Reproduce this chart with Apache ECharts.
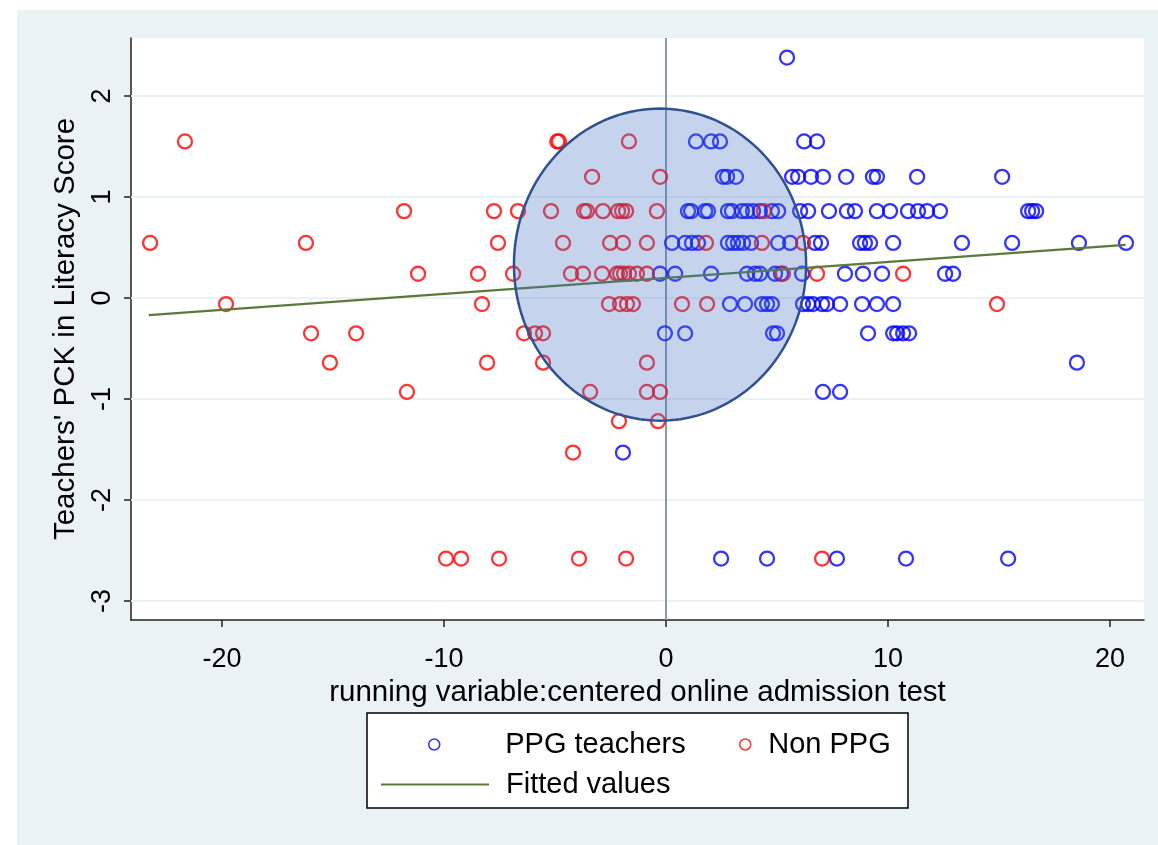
<!DOCTYPE html>
<html>
<head>
<meta charset="utf-8">
<script src="https://cdn.jsdelivr.net/npm/echarts@6/dist/echarts.min.js"></script>
<style>html,body{margin:0;padding:0;background:#fff}#c{width:1158px;height:845px}</style>
</head>
<body>
<div id="c"></div>
<script>
// ---- data ----
const xTicks = [-20, -10, 0, 10, 20];
const yTicks = [-3, -2, -1, 0, 1, 2];

const ppgPoints = [
  [5.45, 2.38],
  [1.35, 1.55], [2.03, 1.55], [2.43, 1.55], [6.22, 1.55], [6.80, 1.55],
  [2.57, 1.20], [2.75, 1.20], [3.15, 1.20], [5.68, 1.20], [5.95, 1.20], [6.53, 1.20], [7.07, 1.20], [8.11, 1.20], [9.32, 1.20], [9.50, 1.20], [11.31, 1.20], [15.14, 1.20],
  [0.99, 0.86], [1.13, 0.86], [1.76, 0.86], [1.89, 0.86], [2.79, 0.86], [2.97, 0.86], [3.42, 0.86], [3.65, 0.86], [3.92, 0.86], [4.23, 0.86], [4.77, 0.86], [5.05, 0.86], [6.04, 0.86], [6.40, 0.86], [7.34, 0.86], [8.15, 0.86], [8.51, 0.86], [9.50, 0.86], [10.09, 0.86], [10.90, 0.86], [11.35, 0.86], [11.76, 0.86], [12.34, 0.86], [16.31, 0.86], [16.49, 0.86], [16.67, 0.86],
  [0.27, 0.545], [0.86, 0.545], [1.17, 0.545], [1.44, 0.545], [2.79, 0.545], [3.02, 0.545], [3.24, 0.545], [3.47, 0.545], [3.83, 0.545], [5.05, 0.545], [5.59, 0.545], [6.71, 0.545], [6.98, 0.545], [8.74, 0.545], [8.96, 0.545], [9.19, 0.545], [10.23, 0.545], [13.33, 0.545], [15.59, 0.545], [18.60, 0.545], [20.72, 0.545],
  [-0.27, 0.24], [0.41, 0.24], [2.03, 0.24], [3.65, 0.24], [4.01, 0.24], [4.23, 0.24], [4.91, 0.24], [5.18, 0.24], [6.13, 0.24], [8.06, 0.24], [8.87, 0.24], [9.73, 0.24], [12.57, 0.24], [12.93, 0.24],
  [2.88, -0.06], [3.56, -0.06], [4.32, -0.06], [4.55, -0.06], [4.77, -0.06], [6.17, -0.06], [6.40, -0.06], [6.62, -0.06], [7.03, -0.06], [7.25, -0.06], [7.84, -0.06], [8.83, -0.06], [9.50, -0.06], [10.23, -0.06],
  [-0.05, -0.35], [0.86, -0.35], [4.82, -0.35], [5.00, -0.35], [9.10, -0.35], [10.23, -0.35], [10.41, -0.35], [10.68, -0.35], [10.95, -0.35],
  [18.51, -0.64],
  [7.07, -0.93], [7.84, -0.93],
  [-1.94, -1.53],
  [2.48, -2.58], [4.55, -2.58], [7.70, -2.58], [10.81, -2.58], [15.41, -2.58]
];

const nonPpgPoints = [
  [-21.67, 1.55], [-4.90, 1.55], [-4.82, 1.55], [-1.67, 1.55],
  [-3.33, 1.20], [-0.27, 1.20],
  [-11.80, 0.86], [-7.75, 0.86], [-6.67, 0.86], [-5.18, 0.86], [-3.69, 0.86], [-3.56, 0.86], [-2.84, 0.86], [-2.16, 0.86], [-1.98, 0.86], [-1.80, 0.86], [-0.41, 0.86], [4.41, 0.86],
  [-23.24, 0.545], [-16.22, 0.545], [-7.57, 0.545], [-4.64, 0.545], [-2.52, 0.545], [-1.94, 0.545], [-0.86, 0.545], [1.80, 0.545], [4.32, 0.545], [6.17, 0.545],
  [-11.17, 0.24], [-8.47, 0.24], [-6.89, 0.24], [-4.28, 0.24], [-3.74, 0.24], [-2.88, 0.24], [-2.21, 0.24], [-2.07, 0.24], [-1.89, 0.24], [-1.67, 0.24], [-1.31, 0.24], [-0.86, 0.24], [5.27, 0.24], [6.80, 0.24], [10.68, 0.24],
  [-19.82, -0.06], [-8.29, -0.06], [-2.57, -0.06], [-2.07, -0.06], [-1.76, -0.06], [-1.49, -0.06], [0.72, -0.06], [1.85, -0.06], [14.91, -0.06],
  [-15.99, -0.35], [-13.96, -0.35], [-6.40, -0.35], [-5.90, -0.35], [-5.54, -0.35],
  [-15.14, -0.64], [-8.06, -0.64], [-5.54, -0.64], [-0.86, -0.64],
  [-11.67, -0.93], [-3.42, -0.93], [-0.86, -0.93], [-0.27, -0.93],
  [-2.12, -1.22], [-0.36, -1.22],
  [-4.19, -1.53],
  [-9.91, -2.58], [-9.23, -2.58], [-7.52, -2.58], [-3.92, -2.58], [-1.80, -2.58], [7.03, -2.58]
];

const fittedX = [-23.3, 20.7];
const fittedY = [-0.17, 0.525];

// highlighted region around the cutoff: [centerX, centerY, radiusX, radiusY] in data units
const ellipseSpec = [-0.27, 0.33, 6.58, 1.545];
const cutoffX = 0;

// ---- chart ----
const FONT = "'Liberation Sans', Arial, sans-serif";
const chart = echarts.init(document.getElementById('c'), null, {renderer: 'canvas'});

const option = {
  backgroundColor: '#ffffff',
  animation: false,
  textStyle: {fontFamily: FONT},
  graphic: [
    {type: 'rect', z: -10, shape: {x: 17, y: 10, width: 1141, height: 835}, style: {fill: '#EAF2F3'}, silent: true},
    {type: 'rect', z: 2, shape: {x: 367, y: 713, width: 541, height: 95}, style: {fill: '#ffffff', stroke: '#000000', lineWidth: 1.5}, silent: true}
  ],
  grid: {left: 131, right: 14, top: 38, bottom: 225, show: true, backgroundColor: '#ffffff', borderWidth: 0, containLabel: false},
  legend: [
    {data: ['PPG teachers'], left: 428, top: 730, padding: 0, itemWidth: 108, itemHeight: 11, selectedMode: false, z: 5,
      itemStyle: {color: 'rgba(0,0,0,0)', borderWidth: 1.5},
      textStyle: {fontFamily: FONT, fontSize: 29, color: '#000', padding: [0, 0, 0, 12]}},
    {data: ['Non PPG'], left: 739, top: 730, padding: 0, itemWidth: 34, itemHeight: 11, selectedMode: false, z: 5,
      itemStyle: {color: 'rgba(0,0,0,0)', borderWidth: 1.5},
      textStyle: {fontFamily: FONT, fontSize: 29, color: '#000', padding: [0, 0, 0, 1]}},
    {data: ['Fitted values'], left: 380, top: 770, padding: 0, itemWidth: 108, itemHeight: 11, selectedMode: false, z: 5,
      itemStyle: {color: 'rgba(0,0,0,0)', borderWidth: 0, opacity: 0},
      textStyle: {fontFamily: FONT, fontSize: 29, color: '#000', padding: [0, 0, 0, 12]}}
  ],
  xAxis: {
    type: 'value', min: -24.1, max: 21.53,
    name: 'running variable:centered online admission test', nameLocation: 'middle', nameGap: 50,
    nameTextStyle: {fontFamily: FONT, fontSize: 29.5, color: '#000'},
    axisLine: {show: true, onZero: false, lineStyle: {color: '#222', width: 1.5}},
    axisTick: {show: true, customValues: xTicks, length: 7, inside: false, lineStyle: {color: '#222', width: 1.5}},
    axisLabel: {show: true, customValues: xTicks, fontFamily: FONT, fontSize: 27, color: '#000', margin: 26},
    splitLine: {show: false}
  },
  yAxis: {
    type: 'value', min: -3.188, max: 2.574,
    name: "Teachers' PCK in Literacy Score", nameLocation: 'middle', nameGap: 48, nameRotate: 90,
    nameTextStyle: {fontFamily: FONT, fontSize: 29.5, color: '#000'},
    axisLine: {show: true, onZero: false, lineStyle: {color: '#222', width: 1.5}},
    axisTick: {show: true, customValues: yTicks, length: 7, inside: false, lineStyle: {color: '#222', width: 1.5}},
    axisLabel: {show: true, customValues: yTicks, rotate: 90, fontFamily: FONT, fontSize: 27, color: '#000', margin: 15},
    splitLine: {show: false}
  },
  series: [
    {
      name: 'gridlines', type: 'line', data: [], silent: true, z: 1,
      markLine: {
        silent: true, z: 1, symbol: ['none', 'none'], label: {show: false}, animation: false,
        lineStyle: {color: '#EAF2F3', width: 2, type: 'solid'},
        data: yTicks.map(v => ({yAxis: v}))
      }
    },
    {
      name: 'cutoff', type: 'line', data: [], silent: true, z: 2,
      markLine: {
        silent: true, z: 2, symbol: ['none', 'none'], label: {show: false}, animation: false,
        lineStyle: {color: '#8A9AAE', width: 2, type: 'solid'},
        data: [{xAxis: cutoffX}]
      }
    },
    {
      name: 'PPG teachers', type: 'scatter', z: 3, symbol: 'circle', symbolSize: 14,
      itemStyle: {color: 'rgba(0,0,0,0)', borderColor: '#0000FF', borderWidth: 2.3},
      data: ppgPoints
    },
    {
      name: 'Non PPG', type: 'scatter', z: 3, symbol: 'circle', symbolSize: 14,
      itemStyle: {color: 'rgba(0,0,0,0)', borderColor: '#FF0000', borderWidth: 2.3},
      data: nonPpgPoints
    },
    {
      name: 'Fitted values', type: 'line', z: 4, symbol: 'none', showSymbol: false,
      lineStyle: {color: '#5B7A3A', width: 2.2}, itemStyle: {color: '#5B7A3A'},
      data: fittedX.map((x, i) => [x, fittedY[i]])
    },
    {
      name: 'region', type: 'custom', z: 6, silent: true,
      data: [ellipseSpec],
      renderItem: function (params, api) {
        const cx = api.value(0), cy = api.value(1), rx = api.value(2), ry = api.value(3);
        const pts = [];
        const N = 180;
        for (let i = 0; i < N; i++) {
          const t = (i / N) * Math.PI * 2;
          pts.push(api.coord([cx + rx * Math.cos(t), cy + ry * Math.sin(t)]));
        }
        return {
          type: 'polygon',
          shape: {points: pts},
          style: {fill: 'rgba(68,114,196,0.31)', stroke: '#2F528F', lineWidth: 2.5}
        };
      }
    }
  ]
};
chart.setOption(option);
</script>
</body>
</html>
